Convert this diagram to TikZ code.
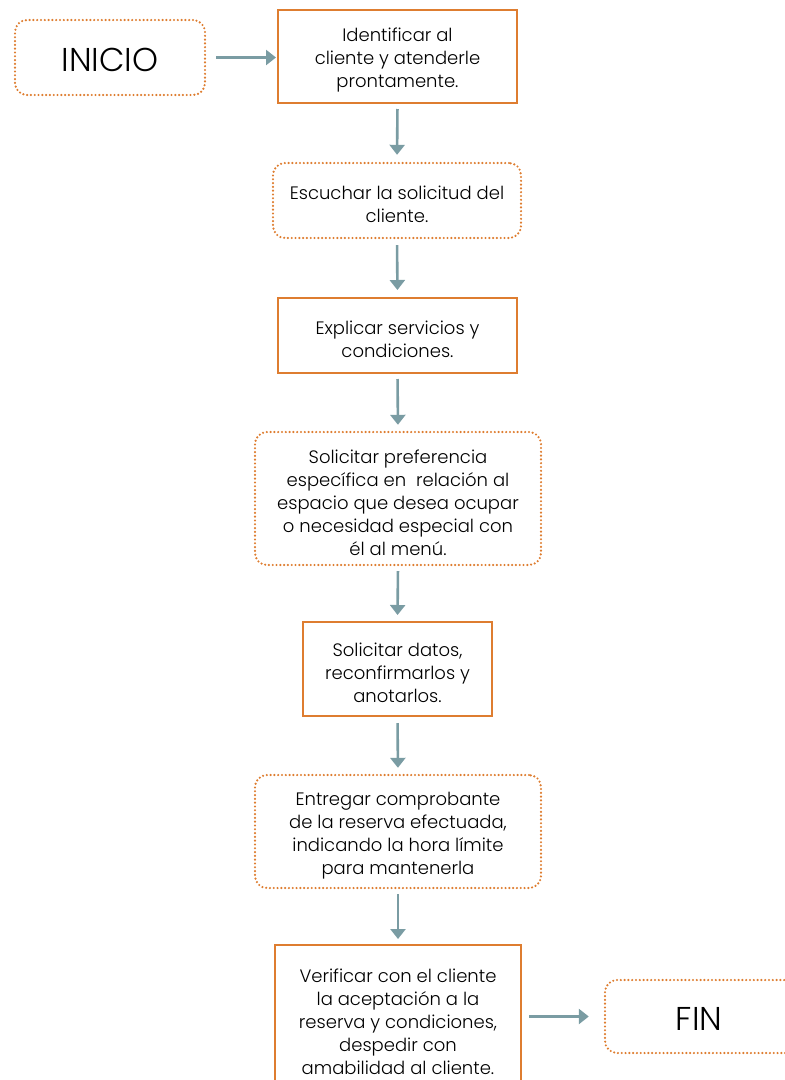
\documentclass[tikz,border=0pt]{standalone}
\usepackage{fontspec}
\setmainfont{Poppins}[UprightFont=* Light]
\usetikzlibrary{arrows.meta}
\definecolor{orng}{RGB}{222,125,48}
\definecolor{arr}{RGB}{122,156,163}
\tikzset{
  solidbox/.style={draw=orng, line width=2pt, inner sep=0pt},
  dotbox/.style={draw=orng, line width=2.4pt, dash pattern=on 0pt off 3.8pt, line cap=round, rounded corners=12pt, inner sep=0pt},
  txt/.style={align=center, font=\fontsize{18}{23}\selectfont, inner sep=0pt},
  bigtxt/.style={font=\fontsize{33}{36}\selectfont, inner sep=0pt},
  flow/.style={draw=arr, line width=2.6pt, -{Triangle[length=10pt,width=15pt]}},
}
\begin{document}
\begin{tikzpicture}[x=1pt,y=-1pt]
\useasboundingbox (0,0) rectangle (785,1080);
\node[dotbox, minimum width=190pt, minimum height=75pt] (inicio) at (110,57.5) {};
\node[bigtxt] (inicioT) at ([yshift=-2pt]inicio.center) {INICIO};
\node[solidbox, minimum width=239pt, minimum height=93pt] (b1) at (397.5,56.5) {};
\node[txt] (b1T) at ([yshift=-4pt]b1.center) {Identificar al\\cliente y atenderle\\prontamente.};
\node[dotbox, minimum width=248pt, minimum height=75pt] (b2) at (397,200.5) {};
\node[txt] (b2T) at ([yshift=-4pt]b2.center) {Escuchar la solicitud del\\cliente.};
\node[solidbox, minimum width=239pt, minimum height=75pt] (b3) at (397.5,335.5) {};
\node[txt] (b3T) at ([yshift=-4pt]b3.center) {Explicar servicios y\\condiciones.};
\node[dotbox, minimum width=286pt, minimum height=133pt] (b4) at (398,498.5) {};
\node[txt] (b4T) at ([yshift=-4pt]b4.center) {Solicitar preferencia\\espec\'ifica en\ \ relaci\'on al\\espacio que desea ocupar\\o necesidad especial con\\\'el al men\'u.};
\node[solidbox, minimum width=189pt, minimum height=94pt] (b5) at (397.5,669) {};
\node[txt] (b5T) at ([yshift=-4pt]b5.center) {Solicitar datos,\\reconfirmarlos y\\anotarlos.};
\node[dotbox, minimum width=286pt, minimum height=113pt] (b6) at (398,831.5) {};
\node[txt] (b6T) at ([yshift=-4pt]b6.center) {Entregar comprobante\\de la reserva efectuada,\\indicando la hora l\'imite\\para mantenerla};
\node[solidbox, minimum width=246pt, minimum height=146pt] (b7) at (398,1018) {};
\node[txt] (b7T) at ([yshift=-4pt]b7.center) {Verificar con el cliente\\la aceptaci\'on a la\\reserva y condiciones,\\despedir con\\amabilidad al cliente.};
\node[dotbox, minimum width=195pt, minimum height=73pt] (fin) at (702.5,1016.5) {};
\node[bigtxt] (finT) at (699,1018.5) {FIN};
\draw[flow, shorten <=10pt, shorten >=1pt] (inicio.east) -- (b1.west |- inicio.east);
\draw[flow, shorten <=5pt, shorten >=7pt] (b1.south) -- (b2.north);
\draw[flow, shorten <=6pt, shorten >=7pt] (b2.south) -- (b3.north);
\draw[flow, shorten <=5pt, shorten >=6pt] (b3.south) -- (b4.north);
\draw[flow, shorten <=5pt, shorten >=6pt] (b4.south) -- (b5.north);
\draw[flow, shorten <=6pt, shorten >=6pt] (b5.south) -- (b6.north);
\draw[flow, shorten <=5pt, shorten >=5pt] (b6.south) -- (b7.north);
\draw[flow, shorten <=7pt, shorten >=15pt] (b7.east |- fin.west) -- (fin.west);
\end{tikzpicture}
\end{document}
